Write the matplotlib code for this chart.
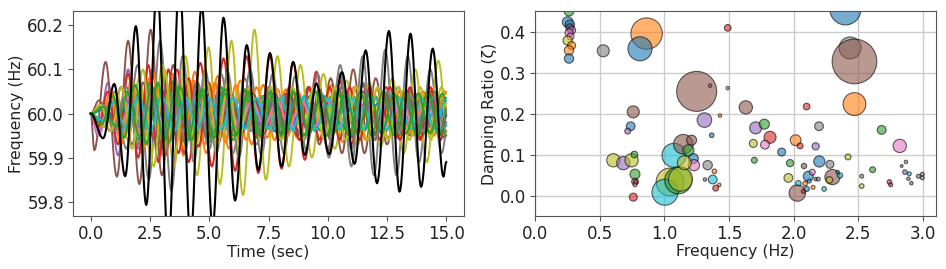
import numpy as np
import matplotlib
matplotlib.use("Agg")
import matplotlib.pyplot as plt

# ── Left panel: frequency traces ──
# black trace: extrema times (s) and values (Hz)
black_t = [0.0, 0.52, 0.99, 1.45, 1.90, 2.34, 2.80, 3.27, 3.74, 4.21, 4.68,
           5.14, 5.60, 6.09, 6.58, 7.07, 7.56, 8.05, 8.54, 9.03, 9.52, 10.06,
           10.60, 11.13, 11.60, 12.08, 12.58, 13.03, 13.49, 13.94, 14.43,
           14.88, 15.0]
black_f = [60.0, 59.944, 60.067, 59.858, 60.198, 59.793, 60.29, 59.70, 60.30,
           59.72, 60.245, 59.745, 60.217, 59.803, 60.155, 59.872, 60.137,
           59.880, 60.117, 59.906, 60.068, 59.908, 60.094, 59.886, 60.143,
           59.842, 60.187, 59.823, 60.181, 59.834, 60.147, 59.857, 59.89]

# coloured traces: period (s), first extremum time (s), first direction,
# and the size of each successive swing (mHz)
trace_colors = ["tab:blue", "tab:orange", "tab:green", "tab:red", "tab:purple",
                "tab:brown", "tab:pink", "tab:gray", "tab:olive", "tab:cyan",
                "tab:blue", "tab:orange", "tab:green", "tab:red", "tab:purple",
                "tab:brown", "tab:pink", "tab:gray", "tab:olive", "tab:cyan",
                "tab:green", "tab:green"]
trace_period = [0.98, 0.96, 0.92, 0.98, 0.85, 0.95, 0.90, 0.95, 0.97, 0.90,
                1.05, 0.88, 1.00, 0.85, 1.00, 0.93, 1.05, 1.00, 0.90, 1.00,
                0.95, 1.02]
trace_start = [0.40, 0.55, 0.50, 0.70, 0.30, 0.15, 0.35, 0.55, 0.60, 0.45,
               0.60, 0.40, 0.50, 0.30, 0.50, 0.35, 0.50, 0.50, 0.40, 0.50,
               0.45, 0.55]
trace_sign = [-1, 1, -1, 1, -1, -1, -1, -1, -1, -1,
              1, -1, 1, -1, 1, 1, 1, 1, 1, -1,
              -1, 1]
trace_amps = [
    [20, 30, 40, 45, 50, 50, 45, 45, 40, 40, 40, 38, 36, 35, 35, 38, 40, 40,
     42, 45, 45, 45, 45, 45, 42, 40, 40, 40, 38, 35, 35, 35, 35, 35],
    [25, 45, 60, 70, 80, 85, 90, 95, 95, 90, 85, 80, 75, 70, 65, 60, 55, 55,
     60, 60, 65, 65, 60, 60, 55, 55, 50, 50, 50, 50, 50, 50, 50, 50],
    [20, 35, 50, 60, 65, 65, 65, 60, 60, 55, 55, 50, 50, 50, 45, 45, 45, 45,
     40, 40, 40, 40, 40, 40, 40, 40, 40, 40, 40, 40, 40, 40, 40, 40, 40],
    [15, 35, 55, 70, 85, 95, 100, 110, 115, 120, 125, 130, 130, 135, 130, 125,
     115, 105, 95, 85, 75, 70, 65, 60, 60, 55, 55, 55, 55, 55, 55, 55, 55, 55],
    [50, 70, 95, 100, 80, 70, 60, 50, 40, 35, 30, 30, 25, 25, 25, 25, 25, 25,
     25, 25, 25, 25, 25, 25, 25, 25, 25, 25, 25, 25, 25, 25, 25, 25, 25, 25,
     25, 25],
    [83, 117, 143, 165, 160, 190, 140, 110, 90, 70, 60, 50, 45, 40, 40, 40,
     40, 45, 50, 60, 70, 80, 90, 100, 90, 80, 70, 60, 50, 40, 35, 30, 30, 30,
     30],
    [50, 40, 60, 60, 55, 50, 45, 40, 40, 35, 30, 30, 30, 30, 30, 30, 30, 30,
     30, 30, 30, 30, 30, 30, 30, 30, 30, 30, 30, 30, 30, 30, 30, 30, 30, 30],
    [30, 50, 80, 110, 150, 165, 175, 130, 110, 100, 90, 95, 100, 100, 95, 90,
     90, 85, 85, 90, 100, 110, 120, 130, 140, 145, 140, 130, 110, 100, 90, 80,
     70, 60],
    [30, 45, 60, 80, 95, 110, 120, 130, 140, 150, 160, 165, 185, 190, 150,
     130, 120, 110, 100, 90, 80, 75, 70, 70, 75, 80, 90, 100, 110, 120, 110,
     100, 100, 100],
    [20, 30, 40, 45, 45, 45, 45, 40, 40, 40, 40, 40, 40, 40, 40, 40, 40, 40,
     40, 40, 40, 40, 40, 40, 40, 40, 40, 40, 40, 40, 40, 40, 40, 40, 40, 40],
    [10, 20, 30, 35, 35, 30, 30, 30, 30, 30, 30, 30, 30, 25, 25, 25, 25, 25,
     25, 25, 25, 25, 25, 25, 25, 25, 25, 25, 25, 25, 25, 25],
    [30, 50, 70, 80, 90, 100, 95, 90, 80, 75, 70, 70, 65, 65, 60, 60, 55, 55,
     50, 50, 50, 50, 50, 50, 50, 50, 50, 50, 50, 50, 50, 50, 50, 50, 50, 50],
    [10, 30, 50, 60, 70, 75, 75, 70, 70, 65, 60, 60, 55, 55, 55, 55, 50, 50,
     50, 50, 50, 50, 50, 50, 50, 50, 50, 50, 50, 50, 50, 50],
    [30, 50, 70, 90, 100, 110, 110, 100, 90, 80, 75, 70, 65, 60, 60, 60, 60,
     60, 60, 60, 60, 60, 60, 60, 60, 60, 60, 60, 60, 60, 60, 60, 60, 60, 60,
     60, 60, 60],
    [15, 25, 30, 30, 30, 25, 25, 25, 20, 20, 20, 20, 20, 20, 20, 20, 20, 20,
     20, 20, 20, 20, 20, 20, 20, 20, 20, 20, 20, 20, 20, 20],
    [30, 40, 60, 70, 70, 60, 55, 50, 45, 45, 45, 45, 45, 45, 45, 45, 45, 45,
     45, 50, 55, 60, 60, 55, 50, 45, 45, 45, 45, 45, 45, 45, 45, 45, 45],
    [20, 30, 40, 45, 45, 40, 40, 40, 35, 30, 30, 30, 30, 30, 30, 30, 30, 30,
     30, 30, 30, 30, 30, 30, 30, 30, 30, 30, 30, 30, 30, 30],
    [20, 40, 60, 70, 60, 50, 50, 60, 70, 80, 90, 90, 80, 70, 60, 60, 60, 60,
     70, 80, 90, 80, 70, 60, 50, 40, 40, 40, 40, 40, 40, 40],
    [20, 40, 60, 80, 100, 120, 100, 90, 80, 70, 70, 70, 70, 65, 60, 60, 60,
     60, 60, 60, 60, 60, 60, 60, 60, 60, 60, 60, 60, 60, 60, 60, 60, 60, 60,
     60],
    [15, 25, 35, 40, 40, 40, 40, 35, 35, 35, 35, 35, 35, 35, 35, 35, 35, 35,
     35, 35, 35, 35, 35, 35, 35, 35, 35, 35, 35, 35, 35, 35],
    [25, 40, 55, 65, 70, 70, 65, 60, 60, 55, 55, 55, 50, 50, 50, 50, 50, 50,
     50, 50, 50, 50, 50, 50, 50, 50, 50, 50, 50, 50, 50, 50, 50, 50],
    [15, 30, 45, 55, 60, 60, 55, 50, 50, 45, 45, 45, 45, 45, 45, 45, 45, 45,
     45, 45, 45, 45, 45, 45, 45, 45, 45, 45, 45, 45, 45, 45],
]

# ── Right panel: identified modes ──
mode_freq = [0.263, 0.253, 0.270, 0.270, 0.283, 0.263, 0.275, 0.253, 0.283,
             0.263, 0.263, 0.528, 0.863, 0.812, 1.490, 1.250, 1.353, 1.490,
             1.430, 1.630, 1.310, 1.366, 0.760, 0.740, 0.717, 0.606, 0.683,
             0.747, 0.768, 0.773, 0.773, 0.780, 0.773, 0.760, 1.075, 1.147,
             1.211, 1.186, 1.224, 1.229, 1.044, 1.005, 1.108, 1.125, 1.155,
             1.335, 1.314, 1.387, 1.374, 1.425, 1.397, 2.400, 2.436, 2.470,
             2.470, 2.100, 2.680, 2.820, 2.196, 1.706, 1.773, 1.817, 1.688,
             1.778, 2.015, 2.050, 2.170, 1.907, 1.696, 1.972, 2.198, 2.280,
             2.080, 2.420, 2.610, 1.959, 2.113, 2.144, 2.300, 2.276, 2.028,
             2.036, 2.088, 2.100, 2.075, 2.150, 2.120, 2.170, 2.235, 2.358,
             2.340, 2.190, 2.526, 2.526, 2.740, 2.750, 2.835, 2.868, 2.860,
             2.894, 2.887, 2.910, 2.964, 2.995, 2.995]
mode_zeta = [0.450, 0.423, 0.417, 0.409, 0.403, 0.397, 0.388, 0.378, 0.366,
             0.354, 0.334, 0.353, 0.395, 0.358, 0.409, 0.254, 0.268, 0.262,
             0.195, 0.215, 0.184, 0.147, 0.204, 0.169, 0.157, 0.086, 0.079,
             0.086, 0.100, 0.052, 0.034, 0.033, 0.026, -0.004, 0.098, 0.125,
             0.135, 0.110, 0.090, 0.074, 0.033, 0.008, 0.037, 0.040, 0.080,
             0.074, 0.039, 0.059, 0.039, 0.026, 0.018, 0.454, 0.360, 0.327,
             0.223, 0.217, 0.160, 0.121, 0.169, 0.165, 0.174, 0.142, 0.127,
             0.124, 0.135, 0.121, 0.120, 0.106, 0.086, 0.079, 0.083, 0.076,
             0.072, 0.094, 0.063, 0.043, 0.047, 0.057, 0.045, 0.038, 0.006,
             0.030, 0.029, 0.016, 0.010, 0.020, 0.035, 0.040, 0.016, 0.049,
             0.057, 0.040, 0.047, 0.023, 0.033, 0.026, 0.072, 0.082, 0.057,
             0.053, 0.041, 0.030, 0.047, 0.052, 0.043]
mode_size = [50, 60, 45, 33, 33, 33, 25, 45, 33, 45, 45, 75, 510, 300, 23,
             830, 6, 6, 6, 92, 110, 11, 75, 40, 18, 92, 92, 92, 23, 52, 23, 11,
             8, 33, 300, 200, 52, 65, 52, 65, 400, 350, 380, 300, 100, 45, 6,
             11, 40, 6, 18, 500, 250, 1035, 270, 23, 40, 92, 40, 75, 52, 75,
             33, 40, 60, 18, 27, 33, 18, 27, 65, 33, 15, 18, 18, 40, 52, 18,
             120, 23, 140, 15, 11, 15, 8, 8, 8, 6, 11, 15, 6, 8, 8, 11, 11, 8,
             4, 6, 11, 8, 6, 6, 8, 8, 8]
mode_color = ["green", "blue", "blue", "brown", "purple", "pink", "pink",
              "olive", "orange", "orange", "blue", "gray", "orange", "blue",
              "red", "brown", "purple", "purple", "orange", "brown", "purple",
              "blue", "brown", "blue", "purple", "olive", "purple", "olive",
              "green", "green", "brown", "red", "pink", "red", "cyan", "brown",
              "brown", "green", "blue", "pink", "olive", "cyan", "green",
              "olive", "olive", "gray", "purple", "orange", "cyan", "orange",
              "red", "blue", "gray", "brown", "orange", "red", "green", "pink",
              "gray", "purple", "green", "red", "olive", "pink", "orange",
              "red", "purple", "blue", "green", "green", "blue", "gray",
              "brown", "olive", "green", "olive", "blue", "pink", "brown",
              "olive", "brown", "cyan", "orange", "blue", "red", "orange",
              "cyan", "purple", "cyan", "cyan", "blue", "gray", "gray", "olive",
              "red", "red", "gray", "gray", "purple", "cyan", "gray", "gray",
              "gray", "gray", "gray"]


def smooth_path(times, values, n=14, t_end=15.0):
    """Join successive extrema with half-cosine swings."""
    ts, vs = [], []
    for i in range(len(times) - 1):
        s = np.linspace(0, 1, n, endpoint=False)
        ts.append(times[i] + (times[i + 1] - times[i]) * s)
        vs.append(values[i] + (values[i + 1] - values[i]) * (1 - np.cos(np.pi * s)) / 2)
    ts.append([times[-1]])
    vs.append([values[-1]])
    t = np.concatenate(ts)
    v = np.concatenate(vs)
    keep = t <= t_end + 1e-9
    return t[keep], v[keep]


def trace_extrema(period, start, sign, amps):
    times = [0.0] + [start + k * period / 2 for k in range(len(amps))]
    values = [60.0] + [60.0 + sign * (-1) ** k * a / 1000 for k, a in enumerate(amps)]
    return times, values


fig = plt.figure(figsize=(9.46, 2.69), dpi=100)
ax1 = fig.add_axes([0.0772, 0.197, 0.4133, 0.762])
ax2 = fig.add_axes([0.5655, 0.197, 0.4239, 0.762])

frame = "#555555"
TICK_FS = 12
LABEL_FS = 11.3
for ax in (ax1, ax2):
    for sp in ax.spines.values():
        sp.set_color(frame)
    ax.tick_params(labelsize=TICK_FS, color=frame, labelcolor="#222222", pad=3)

for col, per, st, sg, amps in zip(trace_colors, trace_period, trace_start,
                                  trace_sign, trace_amps):
    tt, vv = trace_extrema(per, st, sg, amps)
    t, v = smooth_path(tt, vv)
    ax1.plot(t, v, color=col, lw=1.4)

t, v = smooth_path(black_t, black_f)
ax1.plot(t, v, color="black", lw=1.5, zorder=5)

ax1.set_ylim(59.768, 60.232)
ax1.set_xticks([0, 2.5, 5, 7.5, 10, 12.5, 15])
ax1.set_yticks([59.8, 59.9, 60.0, 60.1, 60.2])
ax1.yaxis.set_major_formatter(matplotlib.ticker.FormatStrFormatter("%.1f"))
ax1.set_xlabel("Time (sec)", fontsize=LABEL_FS, color="#222222", labelpad=1)
ax1.set_ylabel("Frequency (Hz)", fontsize=LABEL_FS, color="#222222", labelpad=2)

ax2.set_axisbelow(True)
ax2.grid(True, color="#cccccc", lw=1)
ax2.scatter(mode_freq, mode_zeta, s=mode_size,
            c=["tab:" + c for c in mode_color], alpha=0.6,
            edgecolors="black", linewidths=0.8)
ax2.set_xlim(0, 3.1)
ax2.set_ylim(-0.05, 0.45)
ax2.set_xticks([0, 0.5, 1.0, 1.5, 2.0, 2.5, 3.0])
ax2.set_yticks([0.0, 0.1, 0.2, 0.3, 0.4])
ax2.set_xlabel("Frequency (Hz)", fontsize=LABEL_FS, color="#222222", labelpad=1)
ax2.set_ylabel("Damping Ratio (ζ)", fontsize=LABEL_FS, color="#222222", labelpad=2)

fig.savefig("out.png", dpi=100)
